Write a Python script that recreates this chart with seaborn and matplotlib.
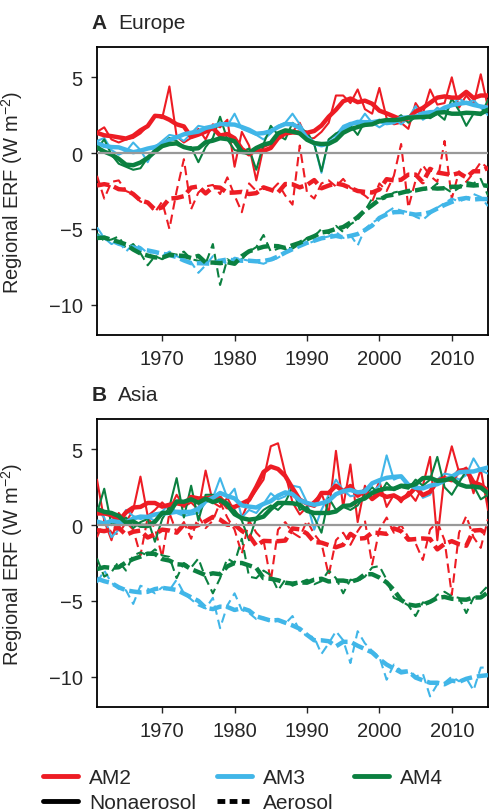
import numpy as np
import pandas as pd
import matplotlib.pyplot as plt
from matplotlib.lines import Line2D
import seaborn as sns

sns.set_style('ticks')
plt.rcParams['font.family'] = ['Liberation Sans', 'DejaVu Sans']
plt.rcParams['font.size'] = 14.5
plt.rcParams['mathtext.fontset'] = 'custom'
plt.rcParams['mathtext.rm'] = 'Liberation Sans'

years = list(range(1961, 2016))
models = ['AM2', 'AM3', 'AM4']
forcings = ['Nonaerosol', 'Aerosol']

# Europe, annual regional ERF (W m-2)
eu_am2_non = [1.4, 1.7, 0.9, 0.7, 0.9, 1.0, 1.3, 1.8, 2.5, 2.3,
              4.4, 1.1, 0.7, 1.0, 1.6, 0.9, 1.9, 1.7, 2.2, -0.9,
              1.4, 0.5, -1.8, 0.4, 0.6, 1.0, 1.5, 1.4, 2.0, 0.9,
              1.0, 1.4, 2.0, 3.8, 3.8, 3.3, 4.2, 2.9, 2.6, 4.3,
              2.3, 1.9, 2.0, 1.6, 3.3, 2.6, 4.2, 3.2, 3.3, 5.0,
              3.0, 3.8, 3.2, 5.2, 3.0]
eu_am3_non = [0.8, 1.0, 0.2, -0.1, 0.1, 0.7, 0.2, -0.6, 0.4, 0.8,
              1.2, 1.1, 0.8, 1.3, 1.8, 1.7, 1.5, 2.0, 1.8, 2.6,
              1.6, 1.4, 1.2, 0.9, 1.3, 1.8, 2.0, 2.6, 1.9, 1.2,
              0.6, -1.3, 0.9, 1.2, 1.8, 2.0, 1.9, 2.6, 2.0, 1.7,
              2.0, 2.3, 1.9, 2.3, 3.1, 2.2, 2.5, 3.0, 2.7, 3.2,
              3.6, 3.3, 3.5, 3.0, 2.5]
eu_am4_non = [0.3, 0.9, -0.1, -0.7, -0.9, -1.1, -1.0, -0.3, 0.2, 0.6,
              1.0, 0.8, 0.4, 0.4, -0.6, 0.4, 1.0, 2.4, 0.9, 0.2,
              0.1, 0.3, -1.1, 0.6, 1.8, 1.2, 0.9, 2.0, 1.6, 1.4,
              0.6, -1.2, 0.9, 1.3, 1.5, 1.8, 1.2, 2.1, 2.0, 2.2,
              2.0, 2.2, 2.5, 2.0, 2.4, 2.6, 2.3, 2.6, 2.2, 3.6,
              2.8, 1.8, 2.6, 2.5, 3.5]
eu_am2_aer = [-1.5, -3.0, -1.9, -1.8, -2.5, -2.7, -3.2, -3.3, -3.9, -3.2,
              -5.0, -2.5, -0.4, -3.7, -2.6, -2.2, -2.1, -2.7, -1.6, -2.8,
              -3.9, -2.0, -2.5, -2.3, -2.5, -2.0, -2.8, -3.4, 0.5, -2.6,
              -3.0, -2.0, -1.8, -2.2, -1.7, -2.3, -2.5, -2.8, -3.2, -2.0,
              -2.5, -1.5, 0.6, -3.6, -1.8, -0.8, -1.5, -1.9, 0.8, -3.0,
              -1.2, -1.9, -1.3, -0.6, -1.0]
eu_am3_aer = [-4.9, -5.6, -6.0, -5.8, -6.5, -6.0, -6.2, -6.6, -6.5, -6.8,
              -6.5, -6.8, -7.0, -7.2, -7.9, -7.4, -6.8, -7.1, -7.3, -6.9,
              -7.0, -7.1, -7.2, -7.3, -7.1, -6.9, -6.6, -6.2, -6.0, -6.0,
              -5.8, -5.6, -5.5, -5.2, -5.6, -5.4, -6.1, -5.0, -4.6, -4.3,
              -3.9, -3.6, -3.8, -3.9, -4.2, -4.4, -4.0, -3.6, -3.3, -3.0,
              -3.2, -3.0, -2.7, -2.9, -3.5]
eu_am4_aer = [-5.3, -5.8, -5.7, -5.5, -6.3, -6.0, -6.6, -7.4, -6.8, -7.0,
              -6.6, -6.7, -6.5, -7.0, -7.1, -7.3, -6.0, -8.7, -7.0, -7.3,
              -7.0, -6.5, -6.2, -5.4, -6.5, -6.3, -6.2, -6.3, -6.0, -5.6,
              -5.5, -5.0, -5.3, -4.8, -5.2, -4.7, -4.4, -3.8, -3.0, -3.0,
              -3.0, -2.6, -2.5, -2.6, -2.4, -2.4, -2.4, -2.0, -2.3, -2.6,
              -2.3, -1.9, -2.0, -1.7, -2.8]

# Asia
as_am2_non = [3.0, 0.3, -1.0, 0.8, 0.2, 1.0, 3.2, 0.6, 1.0, 1.5,
              1.0, 2.0, 1.2, 1.5, 1.0, 3.6, 1.5, 1.2, 1.8, 0.9,
              0.5, 1.6, 2.3, 3.0, 5.2, 5.4, 3.4, 1.5, 0.7, 1.2,
              1.6, 2.1, 0.8, 4.9, 1.2, 4.0, 0.2, 2.6, 1.7, 2.9,
              1.2, 2.0, 1.5, 2.2, 1.6, 2.6, 4.5, -1.0, 3.3, 5.2,
              3.5, 3.8, 2.1, 3.7, 1.0]
as_am3_non = [1.0, 0.5, -0.8, -0.3, 1.0, 0.6, 0.4, 0.5, 0.3, 0.9,
              1.4, 0.8, 0.6, 0.7, 0.8, 1.5, 1.8, 3.1, 1.8, 2.4,
              0.5, 1.0, 0.8, 1.4, 2.1, 1.7, 1.9, 2.6, 2.5, 1.5,
              -0.3, 1.0, 2.0, 3.0, 2.3, 1.9, 2.0, 2.4, 2.2, 2.6,
              4.6, 3.0, 3.2, 2.5, 2.8, 1.8, 2.0, 3.0, 3.4, 3.3,
              3.0, 3.3, 4.4, 3.6, 3.4]
as_am4_non = [0.8, 2.4, 0.0, 0.3, 0.5, -0.2, 0.2, 0.4, -1.1, 0.4,
              1.2, 3.1, 0.5, 2.6, 0.3, 2.0, 2.0, 1.8, 1.5, 1.0,
              0.3, -1.0, 0.5, 1.0, 1.3, 1.0, 1.5, 2.5, 1.0, 1.2,
              0.5, -0.5, 1.8, 1.0, 1.2, 1.0, 1.3, 2.0, 2.5, 2.0,
              2.8, 2.3, 2.5, 2.4, 3.0, 2.6, 3.0, 4.5, 2.5, 2.0,
              2.8, 3.6, 2.6, 1.7, 2.0]
as_am2_aer = [-0.8, 0.3, -0.5, -0.6, 0.2, -0.3, -2.0, 0.5, -0.2, -2.1,
              0.8, -0.5, 0.2, -0.9, 0.6, -0.2, 0.3, 1.5, 0.5, -0.3,
              -1.9, 0.3, -0.5, -1.0, -3.7, -0.3, 0.2, -0.5, -0.8, 0.3,
              -0.6, -1.2, -3.3, -1.0, -0.5, -1.3, -0.4, 0.3, -2.6, -0.3,
              0.5, -0.5, 0.0, -0.8, -1.2, -2.3, -0.3, 0.2, -1.0, -4.6,
              -0.5, 0.6, -0.8, -1.5, 0.4]
as_am3_aer = [-3.8, -3.0, -3.8, -4.2, -4.3, -5.2, -4.0, -4.2, -4.5, -4.1,
              -4.3, -3.6, -4.5, -4.9, -5.3, -5.5, -4.8, -6.8, -5.3, -4.5,
              -5.6, -5.8, -6.2, -6.1, -6.4, -6.3, -6.5, -6.0, -7.0, -7.3,
              -7.4, -8.5, -7.8, -7.0, -7.6, -9.1, -7.0, -7.8, -8.3, -8.7,
              -10.2, -9.2, -9.6, -9.6, -10.0, -9.8, -11.3, -10.5, -10.4, -10.0,
              -10.3, -10.1, -10.9, -9.4, -9.4]
as_am4_aer = [-2.2, -3.4, -3.1, -2.4, -3.0, -2.0, -1.8, -2.0, -1.6, -2.0,
              -2.1, -3.5, -2.5, -2.8, -2.2, -3.5, -4.5, -3.5, -2.2, -2.5,
              -0.9, -3.4, -3.5, -3.0, -3.3, -4.3, -3.6, -4.0, -3.8, -3.6,
              -3.9, -3.7, -3.0, -3.5, -4.5, -3.6, -3.7, -3.4, -2.8, -2.7,
              -3.6, -4.8, -5.0, -5.3, -6.0, -5.1, -5.2, -4.6, -4.4, -4.7,
              -4.8, -5.8, -4.8, -4.5, -4.0]

series = {
    ('Europe', 'AM2', 'Nonaerosol'): eu_am2_non, ('Europe', 'AM3', 'Nonaerosol'): eu_am3_non,
    ('Europe', 'AM4', 'Nonaerosol'): eu_am4_non, ('Europe', 'AM2', 'Aerosol'): eu_am2_aer,
    ('Europe', 'AM3', 'Aerosol'): eu_am3_aer, ('Europe', 'AM4', 'Aerosol'): eu_am4_aer,
    ('Asia', 'AM2', 'Nonaerosol'): as_am2_non, ('Asia', 'AM3', 'Nonaerosol'): as_am3_non,
    ('Asia', 'AM4', 'Nonaerosol'): as_am4_non, ('Asia', 'AM2', 'Aerosol'): as_am2_aer,
    ('Asia', 'AM3', 'Aerosol'): as_am3_aer, ('Asia', 'AM4', 'Aerosol'): as_am4_aer,
}

frames = []
for (region, model, forcing), vals in series.items():
    d = pd.DataFrame({'year': years, 'value': vals})
    # thick lines: 5-year running mean of the annual values
    d['smooth'] = d['value'].rolling(5, center=True, min_periods=3).mean()
    d['region'] = region
    d['model'] = model
    d['forcing'] = forcing
    frames.append(d)
df = pd.concat(frames, ignore_index=True)

colors = {'AM2': '#ED1C24', 'AM3': '#41B6E8', 'AM4': '#0B8040'}

W, H = 490, 812
fig = plt.figure(figsize=(W / 100, H / 100), dpi=100)
ax_eu = fig.add_axes([97 / W, 1 - 336 / H, 391 / W, 288 / H])
ax_as = fig.add_axes([97 / W, 1 - 708 / H, 391 / W, 288 / H])

for ax, region, letter in [(ax_eu, 'Europe', 'A'), (ax_as, 'Asia', 'B')]:
    sub = df[df['region'] == region]
    ax.axhline(0, color='#999999', lw=1.6, zorder=5)
    sns.lineplot(data=sub, x='year', y='value', hue='model', style='forcing',
                 palette=colors, hue_order=models, style_order=forcings,
                 dashes={'Nonaerosol': '', 'Aerosol': (4.5, 2.5)},
                 linewidth=1.5, estimator=None, legend=False, ax=ax, zorder=3)
    sns.lineplot(data=sub, x='year', y='smooth', hue='model', style='forcing',
                 palette=colors, hue_order=models, style_order=forcings,
                 dashes={'Nonaerosol': '', 'Aerosol': (2.8, 1.1)},
                 linewidth=3.2, estimator=None, legend=False, ax=ax, zorder=4)
    ax.set_xlim(1961, 2015)
    ax.set_ylim(-12, 7)
    ax.set_xticks([1970, 1980, 1990, 2000, 2010])
    ax.set_yticks([-10, -5, 0, 5])
    ax.set_xlabel('')
    ax.set_ylabel('Regional ERF (W m$^{-2}$)', fontsize=14.5)
    ax.yaxis.set_label_coords(-0.183, 0.5)
    ax.tick_params(direction='out', length=4.3, width=1, labelsize=14.5, pad=6)
    for sp in ax.spines.values():
        sp.set_visible(True)
        sp.set_linewidth(1.3)
        sp.set_color('black')
    ax.text(-0.013, 1.085, letter, transform=ax.transAxes, fontsize=15,
            fontweight='bold', va='center', ha='left')
    ax.text(0.054, 1.085, region, transform=ax.transAxes, fontsize=15,
            va='center', ha='left')

handles = [
    Line2D([], [], color=colors['AM2'], lw=3.5),
    Line2D([], [], color='black', lw=3.5),
    Line2D([], [], color=colors['AM3'], lw=3.5),
    Line2D([], [], color='black', lw=3.5, dashes=(1.6, 0.9)),
    Line2D([], [], color=colors['AM4'], lw=3.5),
]
labels = ['AM2', 'Nonaerosol', 'AM3', 'Aerosol', 'AM4']
fig.legend(handles, labels, loc='upper left', bbox_to_anchor=(43 / W, 1 - 769 / H),
           ncol=3, frameon=False, fontsize=15, handlelength=1.7,
           handletextpad=0.5, columnspacing=1.0, labelspacing=0.3,
           borderpad=0, borderaxespad=0)

fig.savefig('out.png', dpi=100)
